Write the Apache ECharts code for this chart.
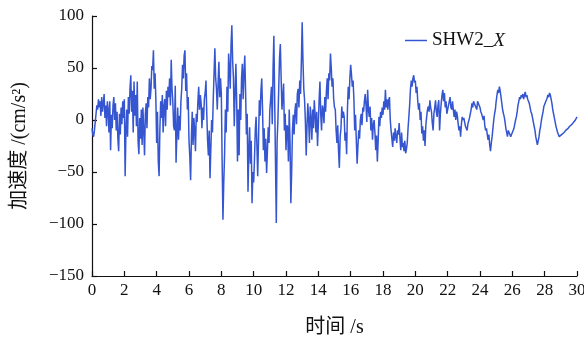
<!DOCTYPE html>
<html>
<head>
<meta charset="utf-8">
<script src="https://cdn.jsdelivr.net/npm/echarts@6/dist/echarts.min.js"></script>
<style>html,body{margin:0;padding:0;background:#fff}#c{width:584px;height:338px}</style>
</head>
<body>
<div id="c"></div>
<script>
// Sample interval (s)
var dt = 0.05;
// Acceleration (cm/s^2), 20 samples per second
var sec00 = [-8, -14, -16, -10, -2, 6, 14, 10, 20, 12, 18, 4, 22, 8, 16, 25, 2, 14, -6, 18];
var sec01 = [10, -12, 18, -29, 5, -8, 14, 22, 0, 16, -10, 8, -18, -30, 6, -14, 12, -4, 18, 2];
var sec02 = [20, -54, -10, 10, -16, 22, 6, 30, 43, 8, 28, -12, 37, 4, 24, -6, 37, -20, -33, 2];
var sec03 = [-18, 10, -24, 12, -10, -34, 6, 16, -8, 22, 12, 40, 20, 30, 52, 48, 67, 30, 45, 20];
var sec04 = [-22, 8, -40, -54, -8, 18, 2, 24, -12, 13, 20, -6, 28, 10, 32, 22, 40, 14, 58, 30];
var sec05 = [17, -6, -10, 33, -41, -14, 12, -19, 4, -10, 18, 30, 53, 40, 62, 67, 28, 45, 10, 22];
var sec06 = [-20, -35, -58, -16, 8, -24, 2, -10, -30, 6, -2, 18, 32, 10, 24, 16, -8, 12, 0, 20];
var sec07 = [26, 38, 6, -20, -34, -10, -56, -28, 0, -12, 20, 45, 69, 40, 30, 10, 36, 56, 22, 40];
var sec08 = [25, -40, -96, -60, -34, 10, -12, 32, 8, 64, 50, 30, 72, 91, 57, 40, -6, 26, 54, 18];
var sec09 = [-40, 10, -34, 25, 0, 40, 54, 20, 45, 62, 28, -14, 6, -69, -30, -7, -42, -20, -80, -50];
var sec10 = [-60, -38, -10, 3, -24, -54, -20, 19, 4, 28, 40, 10, -29, -8, -40, -18, -51, -30, -7, -22];
var sec11 = [10, 20, 32, -4, 50, 81, 20, -40, -99, -20, 0, 30, 60, 73, 40, 10, 22, 35, -10, 6];
var sec12 = [-29, -5, -7, -40, 10, -22, -80, -50, -10, 5, -14, 8, 16, -4, 25, 30, 12, 38, 25, 55];
var sec13 = [94, 57, 30, 19, -2, -34, -5, 16, 0, -22, 13, 2, -19, 10, -8, 19, 5, -12, 8, -25];
var sec14 = [-4, 20, 37, 5, -10, 14, 10, -3, 22, 8, 28, 40, 20, 45, 38, 64, 50, 32, 40, 20];
var sec15 = [12, 10, -10, -22, -5, -30, -46, -16, -8, 13, 2, 8, 3, -20, -12, -33, 10, 32, 20, 40];
var sec16 = [53, 44, 32, 38, 20, -10, 5, -20, -42, -25, -10, -18, 0, 6, -5, 12, 8, 18, 25, 14];
var sec17 = [-2, 29, 10, 3, 13, -10, 2, -19, -5, 0, -12, -29, -15, -40, -20, 3, -6, 8, 2, 12];
var sec18 = [5, 18, 10, 29, 12, 20, 10, 19, 22, 0, -10, -18, -26, -12, -20, -8, -16, -22, -10, -14];
var sec19 = [-3, -18, -29, -12, -26, -22, -30, -20, -32, -28, -22, -8, 3, 15, 30, 38, 32, 40, 43, 36];
var sec20 = [38, 26, 32, 18, 10, 16, 0, 8, -13, -6, -20, -10, -25, -5, 3, 10, 13, 8, 19, 12];
var sec21 = [8, -3, -10, 6, 12, 19, 8, 3, 14, 19, -10, 6, 16, 24, 29, 18, 26, 12, 18, 6];
var sec22 = [6, 14, 18, 22, 12, 10, 18, 10, 3, 10, 0, 8, 4, -4, -10, -6, -16, -4, 3, 0];
var sec23 = [2, -2, -6, -8, -10, -4, -3, 2, 6, 10, 16, 12, 18, 19, 14, 13, 10, 18, 19, 14];
var sec24 = [12, 8, 6, 3, 0, 4, -6, -10, -8, -14, -19, -14, -24, -30, -22, -16, -8, 0, 6, 10];
var sec25 = [18, 24, 29, 26, 32, 28, 22, 16, 10, 6, 3, -2, -8, -12, -16, -10, -10, -14, -16, -14];
var sec26 = [-12, -10, -8, -4, 0, 3, 8, 14, 18, 22, 20, 24, 22, 25, 20, 24, 27, 22, 24, 20];
var sec27 = [18, 16, 12, 8, 6, 2, -2, -6, -10, -16, -20, -24, -20, -16, -10, -6, 0, 4, 8, 13];
var sec28 = [14, 17, 19, 21, 24, 22, 26, 24, 20, 16, 10, 6, 2, -2, -6, -9, -12, -14, -16, -16];
var sec29 = [-15, -14, -14, -13, -12, -11, -10, -10, -9, -8, -7, -6, -6, -5, -4, -3, -2, -1, 0, 1];
var sec30 = [3];

var seriesName = 'SHW2_X';
var xTicks = [0, 30, 2];      // min, max, interval
var yTicks = [-150, 100, 50]; // min, max, interval

var values = [].concat(sec00, sec01, sec02, sec03, sec04, sec05, sec06, sec07, sec08, sec09,
  sec10, sec11, sec12, sec13, sec14, sec15, sec16, sec17, sec18, sec19,
  sec20, sec21, sec22, sec23, sec24, sec25, sec26, sec27, sec28, sec29, sec30);
var data = values.map(function (v, i) { return [+(i * dt).toFixed(2), v]; });

var serif = "'Liberation Serif', 'Times New Roman', 'Noto Sans CJK SC', serif";
var chart = echarts.init(document.getElementById('c'), null, { renderer: 'canvas' });
chart.setOption({
  animation: false,
  backgroundColor: '#fff',
  grid: { left: 92, right: 7, top: 16, bottom: 62, containLabel: false, outerBoundsMode: 'none' },
  legend: {
    data: [seriesName],
    left: 400, top: 26,
    icon: 'rect', itemWidth: 22, itemHeight: 1.5, itemGap: 6,
    formatter: function () { return 'SHW2_{i|X}'; },
    textStyle: {
      fontFamily: serif, fontSize: 19, color: '#111',
      rich: { i: { fontFamily: serif, fontSize: 19, fontStyle: 'italic', color: '#111' } }
    }
  },
  xAxis: {
    type: 'value', min: xTicks[0], max: xTicks[1], interval: xTicks[2],
    name: '时间 /s', nameLocation: 'middle', nameGap: 42,
    nameTextStyle: { fontFamily: serif, fontSize: 20, color: '#111' },
    axisLine: { show: true, onZero: false, lineStyle: { color: '#111', width: 1.2 } },
    axisTick: { show: true, inside: true, length: 5, lineStyle: { color: '#111', width: 1.2 } },
    axisLabel: { fontFamily: serif, fontSize: 17, color: '#111', margin: 6 },
    splitLine: { show: false }
  },
  yAxis: {
    type: 'value', min: yTicks[0], max: yTicks[1], interval: yTicks[2],
    name: '加速度 /(cm/s²)', nameLocation: 'middle', nameGap: 62,
    nameTextStyle: { fontFamily: serif, fontSize: 20, color: '#111' },
    axisLine: { show: true, onZero: false, lineStyle: { color: '#111', width: 1.2 } },
    axisTick: { show: true, inside: true, length: 5, lineStyle: { color: '#111', width: 1.2 } },
    axisLabel: {
      fontFamily: serif, fontSize: 17, color: '#111', margin: 8,
      formatter: function (v) { return v < 0 ? '\u2212' + Math.abs(v) : String(v); }
    },
    splitLine: { show: false }
  },
  series: [{
    name: seriesName, type: 'line', data: data,
    showSymbol: false, symbol: 'none', sampling: null,
    lineStyle: { color: '#3556d0', width: 1.5 },
    itemStyle: { color: '#3556d0' }
  }]
});
</script>
</body>
</html>
